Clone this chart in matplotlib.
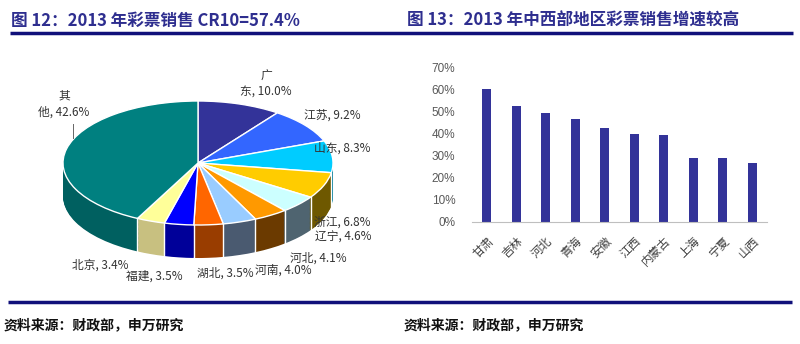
import numpy as np
import matplotlib
matplotlib.use('Agg')
import matplotlib.pyplot as plt

plt.rcParams['font.family'] = ['Noto Sans CJK SC', 'DejaVu Sans']

# 2013 lottery sales share by province (%)
provinces = ['广东', '江苏', '山东', '浙江', '辽宁', '河北', '河南', '湖北', '福建', '北京', '其他']
shares = [10.0, 9.2, 8.3, 6.8, 4.6, 4.1, 4.0, 3.5, 3.5, 3.4, 42.6]

# 2013 lottery sales growth, central & western regions (%)
regions = ['甘肃', '吉林', '河北', '青海', '安徽', '江西', '内蒙古', '上海', '宁夏', '山西']
growth = [60.0, 52.6, 49.0, 46.5, 42.3, 39.7, 39.2, 29.1, 29.1, 26.5]

title1 = '图 12：2013 年彩票销售 CR10=57.4%'
title2 = '图 13：2013 年中西部地区彩票销售增速较高'
source = '资料来源：财政部，申万研究'

top_colors = ['#333399', '#3366FF', '#00CCFF', '#FFCC00', '#CCFFFF', '#FF9900',
              '#99CCFF', '#FF6600', '#0000FF', '#FFFF99', '#008080']
side_colors = ['#1F1F5C', '#1F3D99', '#007A99', '#6E5800', '#4F6470', '#6B3A00',
               '#4A5A70', '#993D00', '#000099', '#C8C080', '#006060']
wrapped = ['广东', '其他']
label_pos = [(266, 84), (332, 115), (342, 148), (342, 222), (343, 237), (318, 258),
             (283, 270), (225, 273), (154, 276), (100, 265), (64, 104)]

W, H = 800, 344
fig = plt.figure(figsize=(W / 100, H / 100), dpi=100)

# --- 3D-looking pie: stack of darker pies for the side, then the top face
rx, ry, depth = 135, 62, 33          # pixels
cx, cy = 198, 163                    # pixel centre (y from top)
k = ry / rx
cy_d = (H - cy) / k
axp = fig.add_axes([0, 0, 1, 1])
for d in np.linspace(depth, 1, 40):
    axp.pie(shares, radius=rx, center=(cx, cy_d - d / k), startangle=90,
            counterclock=False, colors=side_colors, wedgeprops=dict(linewidth=0))
# white seams between slices on the front side
bounds = np.deg2rad(90 - np.cumsum([0] + shares) * 3.6)
for t in bounds:
    if np.sin(t) < 0:
        bx = cx + rx * np.cos(t)
        by = cy_d + rx * np.sin(t)
        axp.plot([bx, bx], [by, by - depth / k], color='white', lw=1)
axp.pie(shares, radius=rx, center=(cx, cy_d), startangle=90, counterclock=False,
        colors=top_colors, wedgeprops=dict(edgecolor='white', linewidth=1))
axp.set_aspect('auto')
axp.set_xlim(0, W)
axp.set_ylim(0, H / k)
axp.axis('off')

# --- bar chart
axb = fig.add_axes([472 / W, (H - 222) / H, 295 / W, 155 / H])
xb = np.arange(len(regions))
axb.bar(xb, growth, width=0.32, color='#333399')
axb.set_xlim(-0.5, len(regions) - 0.5)
axb.set_ylim(0, 70)
axb.set_yticks(np.arange(0, 71, 10))
axb.set_yticklabels(['{}%'.format(v) for v in range(0, 71, 10)],
                    family=['Liberation Sans', 'DejaVu Sans'])
axb.set_xticks(xb)
axb.set_xticklabels(regions, rotation=45, ha='right', va='top',
                    rotation_mode='anchor', fontsize=8.5, color='#404040')
for s in ['left', 'top', 'right']:
    axb.spines[s].set_visible(False)
axb.spines['bottom'].set_color('#BFBFBF')
axb.tick_params(axis='y', length=0, pad=12, labelsize=8.5, labelcolor='#595959')
axb.tick_params(axis='x', length=0, pad=9)

# --- overlay: titles, rules, labels, sources
axo = fig.add_axes([0, 0, 1, 1], facecolor='none')
axo.set_xlim(0, W)
axo.set_ylim(H, 0)
axo.axis('off')
navy = '#2E2E8F'
axo.text(11, 21, title1, fontsize=12, fontweight='bold', color=navy, va='center')
axo.text(407, 21, title2, fontsize=12, fontweight='bold', color=navy, va='center')
axo.plot([10, 793], [33, 33], color='#10107A', lw=2.5, solid_capstyle='butt')
axo.plot([8, 792], [302, 302], color='#10107A', lw=2.5, solid_capstyle='butt')
axo.text(4, 325, source, fontsize=10, fontweight='bold', color='#111111', va='center')
axo.text(404, 325, source, fontsize=10, fontweight='bold', color='#111111', va='center')

for name, v, (lx, ly) in zip(provinces, shares, label_pos):
    s = '{}, {:.1f}%'.format(name, v)
    if name in wrapped:
        s = name[0] + '\n' + s[1:]
    axo.text(lx, ly, s, fontsize=8.5, color='#333333', ha='center', va='center',
             multialignment='center', linespacing=1.25)
axo.plot([73, 73], [124, 138], color='#666666', lw=0.7)

fig.savefig('out.png', dpi=100, facecolor='white')
